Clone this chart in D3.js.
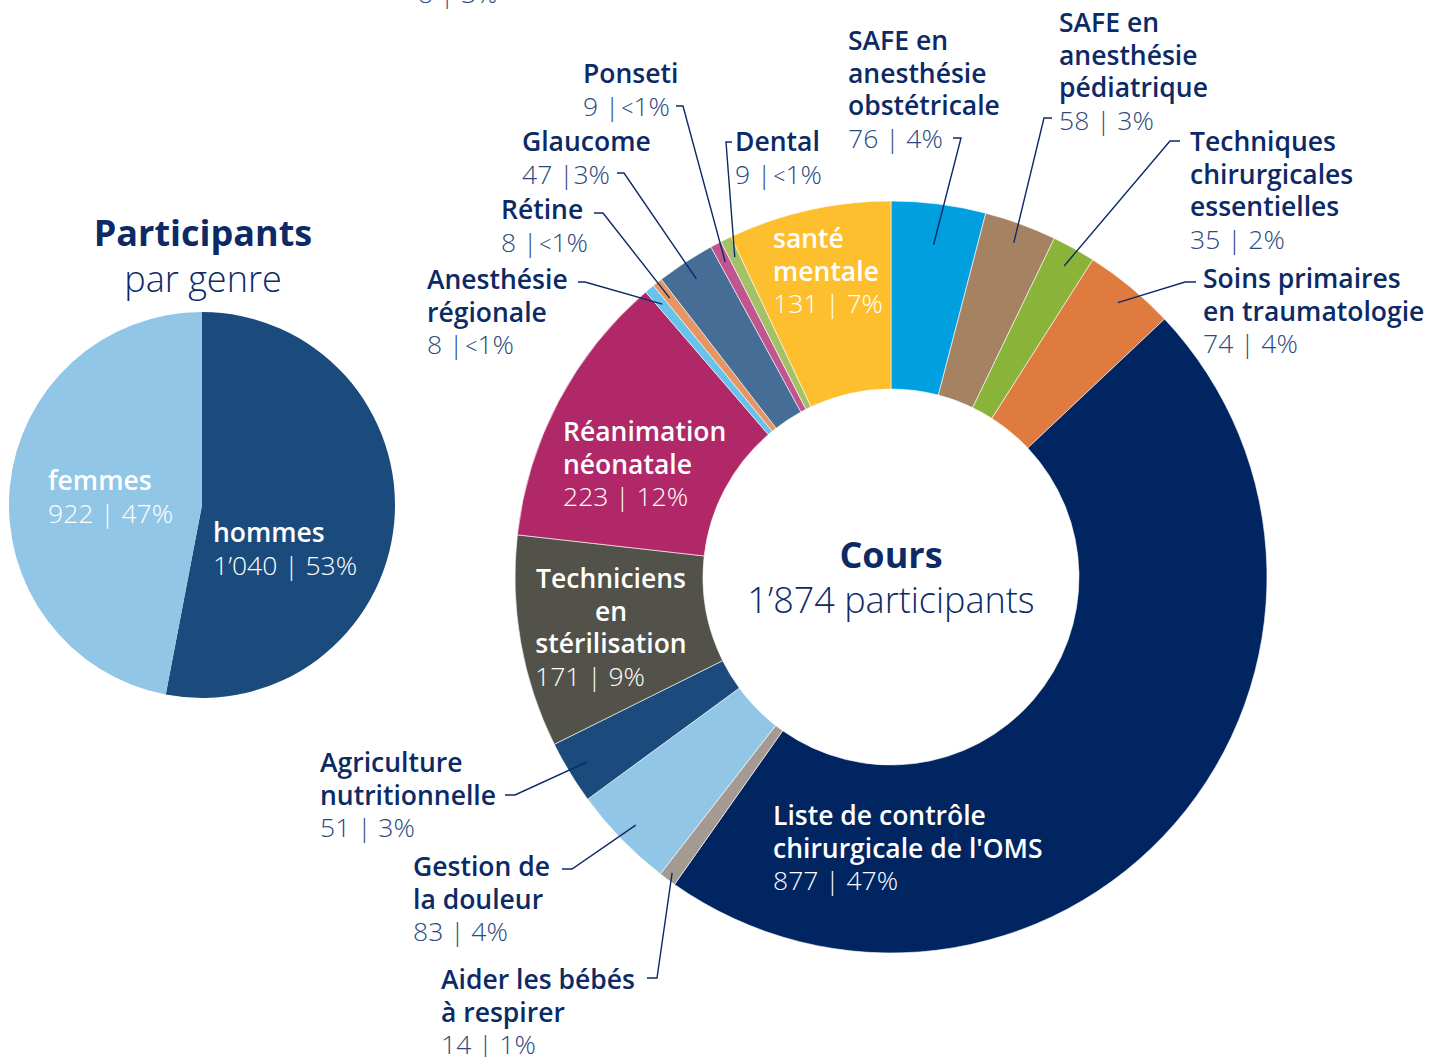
<!DOCTYPE html>
<html>
<head>
<meta charset="utf-8">
<script src="https://cdn.jsdelivr.net/npm/d3@7"></script>
<style>
  html, body { margin: 0; padding: 0; background: #fff; }
  svg { display: block; font-family: "Open Sans", sans-serif; }
</style>
</head>
<body>
<svg id="chart" width="1448" height="1057"></svg>
<script>
// --- Data ---
const courseNames = [
    "SAFE en anesthésie obstétricale", "SAFE en anesthésie pédiatrique",
    "Techniques chirurgicales essentielles", "Soins primaires en traumatologie",
    "Liste de contrôle chirurgicale de l'OMS", "Aider les bébés à respirer",
    "Gestion de la douleur", "Agriculture nutritionnelle",
    "Techniciens en stérilisation", "Réanimation néonatale",
    "Anesthésie régionale", "Rétine", "Glaucome", "Ponseti", "Dental", "santé mentale"
];
const courseLines = [
    ["SAFE en", "anesthésie", "obstétricale"], ["SAFE en", "anesthésie", "pédiatrique"],
    ["Techniques", "chirurgicales", "essentielles"], ["Soins primaires", "en traumatologie"],
    ["Liste de contrôle", "chirurgicale de l'OMS"], ["Aider les bébés", "à respirer"],
    ["Gestion de", "la douleur"], ["Agriculture", "nutritionnelle"],
    ["Techniciens", "en", "stérilisation"], ["Réanimation", "néonatale"],
    ["Anesthésie", "régionale"], ["Rétine"], ["Glaucome"], ["Ponseti"], ["Dental"], ["santé", "mentale"]
];
const courseValues = [76, 58, 35, 74, 877, 14, 83, 51, 171, 223, 8, 8, 47, 9, 9, 131];
const courseColors = [
    "#009fdf", "#a58262", "#8ab33a", "#e07b3f", "#002561", "#a49a91", "#92c6e6", "#1b4b7c",
    "#52524a", "#b02868", "#65c3ec", "#e69565", "#466d96", "#c05590", "#a3c166", "#fdbf2d"
];

const genderNames = ["hommes", "femmes"];
const genderValues = [1040, 922];
const genderColors = ["#1b4b7c", "#92c6e6"];

// label placement (annotation layout), same order as courseNames
const courseLabelPos = [
    { x: 848, y: 50, tick: [953, 961, 138], r: 335 },
    { x: 1059, y: 32, tick: [1052, 1044, 118] },
    { x: 1190, y: 151, tick: [1180, 1170, 141] },
    { x: 1203, y: 288, tick: [1196, 1185, 282] },
    { x: 773, y: 825, inside: true },
    { x: 441, y: 989, tick: [647, 657, 978], r: 368 },
    { x: 413, y: 876, tick: [562, 572, 869] },
    { x: 320, y: 772, tick: [505, 515, 795] },
    { x: 611, y: 588, inside: true, center: true, vx: 535 },
    { x: 563, y: 441, inside: true },
    { x: 427, y: 289, tick: [578, 585, 282] },
    { x: 501, y: 219, tick: [594, 603, 213] },
    { x: 522, y: 151, tick: [617, 624, 173], tight: true },
    { x: 583, y: 83, tick: [676, 683, 106] },
    { x: 735, y: 151, tick: [732, 726, 142] },
    { x: 773, y: 248, inside: true }
];
const genderLabelPos = [{ x: 213, y: 542 }, { x: 48, y: 490 }];

// --- Setup ---
const NAVY = "#0b2a66";
const VALUE_COL = "#2c4a80";
const LINE_H = 32.5;
const FS = 26.5;

const locale = d3.formatLocale({ decimal: ".", thousands: "’", grouping: [3], currency: ["", ""] });
const fmt = locale.format(",d");

const svg = d3.select("#chart");

function writeValue(textSel, v, total, tight) {
    const p = v / total * 100;
    if (p < 0.5) {
        textSel.append("tspan").text(`${fmt(v)} |`);
        textSel.append("tspan").attr("font-size", FS * 0.8).attr("dx", 2).text("<");
        textSel.append("tspan").text("1%");
    } else {
        textSel.append("tspan").text(tight ? `${fmt(v)} |${Math.round(p)}%` : `${fmt(v)} | ${Math.round(p)}%`);
    }
}

// --- Donut: courses ---
const cx = 891, cy = 577, outerR = 376, innerR = 188;
const courseTotal = d3.sum(courseValues);
const pie = d3.pie().sort(null).value(d => d.value);
const courseData = courseNames.map((n, i) => ({ name: n, value: courseValues[i], color: courseColors[i], lines: courseLines[i], pos: courseLabelPos[i] }));
const arcs = pie(courseData);
const arc = d3.arc().innerRadius(innerR).outerRadius(outerR);

const donut = svg.append("g").attr("transform", `translate(${cx},${cy})`);
donut.selectAll("path").data(arcs).enter().append("path")
    .attr("d", arc)
    .attr("fill", d => d.data.color)
    .attr("stroke", "#fff").attr("stroke-width", 0.6);

// leader lines
const leaders = svg.append("g").attr("class", "leaders");
arcs.filter(d => !d.data.pos.inside).forEach(d => {
    const p = d.data.pos;
    const mid = (d.startAngle + d.endAngle) / 2;
    const r = p.r || 356;
    const ex = cx + r * Math.sin(mid), ey = cy - r * Math.cos(mid);
    leaders.append("polyline")
        .attr("points", `${p.tick[0]},${p.tick[2]} ${p.tick[1]},${p.tick[2]} ${ex},${ey}`)
        .attr("fill", "none").attr("stroke", NAVY).attr("stroke-width", 1.4);
});

// labels
const labels = svg.append("g").attr("class", "labels");
arcs.forEach(d => {
    const p = d.data.pos;
    const col = p.inside ? "#fff" : NAVY;
    d.data.lines.forEach((ln, k) => {
        labels.append("text")
            .attr("x", p.x).attr("y", p.y + k * LINE_H)
            .attr("text-anchor", p.center ? "middle" : "start")
            .attr("font-size", FS).attr("font-weight", 600).attr("fill", col)
            .text(ln);
    });
    const vt = labels.append("text")
        .attr("x", p.vx || p.x).attr("y", p.y + d.data.lines.length * LINE_H)
        .attr("font-size", FS).attr("font-weight", 300)
        .attr("fill", p.inside ? "#fff" : VALUE_COL);
    writeValue(vt, d.data.value, courseTotal, p.tight);
});

// clipped label fragment at the top edge
labels.append("text").attr("x", 418).attr("y", 3)
    .attr("font-size", FS).attr("font-weight", 300).attr("fill", VALUE_COL)
    .text("8 | 3%");

// center title
svg.append("text").attr("x", cx).attr("y", 568).attr("text-anchor", "middle")
    .attr("font-size", 36).attr("font-weight", 700).attr("fill", NAVY).text("Cours");
svg.append("text").attr("x", cx).attr("y", 613).attr("text-anchor", "middle")
    .attr("font-size", 36).attr("font-weight", 300).attr("fill", NAVY)
    .text(`${fmt(courseTotal)} participants`);

// --- Pie: gender ---
const px = 202, py = 505, pieR = 193;
const genderTotal = d3.sum(genderValues);
const genderData = genderNames.map((n, i) => ({ name: n, value: genderValues[i], color: genderColors[i], pos: genderLabelPos[i] }));
const gArcs = pie(genderData);
const gArc = d3.arc().innerRadius(0).outerRadius(pieR);

const gpie = svg.append("g").attr("transform", `translate(${px},${py})`);
gpie.selectAll("path").data(gArcs).enter().append("path")
    .attr("d", gArc).attr("fill", d => d.data.color);

gArcs.forEach(d => {
    const p = d.data.pos;
    svg.append("text").attr("x", p.x).attr("y", p.y)
        .attr("font-size", FS).attr("font-weight", 600).attr("fill", "#fff").text(d.data.name);
    const vt = svg.append("text").attr("x", p.x).attr("y", p.y + LINE_H)
        .attr("font-size", FS).attr("font-weight", 300).attr("fill", "#fff");
    writeValue(vt, d.data.value, genderTotal);
});

svg.append("text").attr("x", 203).attr("y", 246).attr("text-anchor", "middle")
    .attr("font-size", 36).attr("font-weight", 700).attr("fill", NAVY).text("Participants");
svg.append("text").attr("x", 203).attr("y", 292).attr("text-anchor", "middle")
    .attr("font-size", 36).attr("font-weight", 300).attr("fill", NAVY).text("par genre");
</script>
</body>
</html>
